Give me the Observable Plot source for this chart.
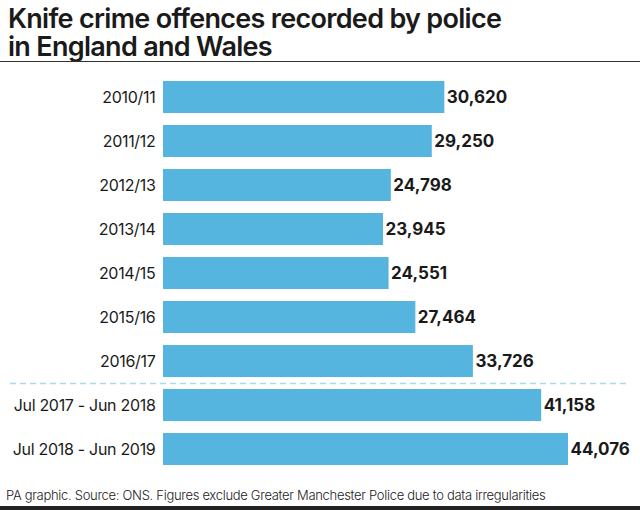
<!DOCTYPE html>
<html>
<head>
<meta charset="utf-8">
<script src="https://cdn.jsdelivr.net/npm/d3@7"></script>
<script src="https://cdn.jsdelivr.net/npm/@observablehq/plot@0.6"></script>
<style>
  html, body { margin: 0; padding: 0; background: #fff; }
  body { width: 640px; height: 510px; overflow: hidden; position: relative; font-family: Inter, "Noto Sans", sans-serif; color: #1a1a1a; }
  .title { position: absolute; left: 8px; font-size: 27px; line-height: 27px; height: 27px; font-weight: 600; letter-spacing: -0.7px; white-space: nowrap; }
  #t1 { top: 5px; }
  #t2 { top: 33px; }
  #rule { position: absolute; left: 0; top: 61px; width: 640px; height: 0; border-top: 1.5px solid #333; }
  #chart { position: absolute; left: 0; top: 64px; }
  #footer { position: absolute; left: 6px; top: 487px; font-size: 13px; font-weight: 300; letter-spacing: -0.3px; color: #222; }
  #bottombar { position: absolute; left: 0; top: 506px; width: 640px; height: 4px; background: #222; }
</style>
</head>
<body>
<div class="title" id="t1">Knife crime offences recorded by police</div>
<div class="title" id="t2">in England and Wales</div>
<div id="rule"></div>
<div id="chart"></div>
<div id="footer">PA graphic. Source: ONS. Figures exclude Greater Manchester Police due to data irregularities</div>
<div id="bottombar"></div>
<script>
const periods = ["2010/11", "2011/12", "2012/13", "2013/14", "2014/15", "2015/16", "2016/17", "Jul 2017 - Jun 2018", "Jul 2018 - Jun 2019"];
const offences = [30620, 29250, 24798, 23945, 24551, 27464, 33726, 41158, 44076];
const separatorBefore = ["Jul 2017 - Jun 2018"];

const data = periods.map((p, i) => ({period: p, value: offences[i]}));
const fmt = d3.format(",");

const chart = Plot.plot({
  width: 640,
  height: 413,
  marginLeft: 163,
  marginRight: 72,
  marginTop: 5,
  marginBottom: 0,
  style: {fontFamily: "Inter, 'Noto Sans', sans-serif", fontSize: "16px", color: "#1a1a1a", background: "transparent"},
  x: {domain: [0, d3.max(offences)], axis: null},
  y: {domain: periods, padding: 0.27, label: null},
  marks: [
    Plot.barX(data, {x: "value", y: "period", fill: "#56b5df"}),
    Plot.ruleY(separatorBefore, {y: d => d, dy: -22, stroke: "#a9d9ef", strokeWidth: 1.5, strokeDasharray: "6,4", insetLeft: -153, insetRight: -60}),
    Plot.text(data, {x: "value", y: "period", text: d => fmt(d.value), textAnchor: "start", dx: 2, fontWeight: 700, fontSize: 17, fill: "#1a1a1a", style: "letter-spacing:-0.3px"}),
    Plot.axisY({tickSize: 0, tickPadding: 8, fontSize: 16, fill: "#1a1a1a", label: null})
  ]
});
chart.querySelectorAll("[aria-label='y-axis tick label'] text").forEach(t => t.style.letterSpacing = "-0.3px");
document.getElementById("chart").appendChild(chart);
</script>
</body>
</html>
